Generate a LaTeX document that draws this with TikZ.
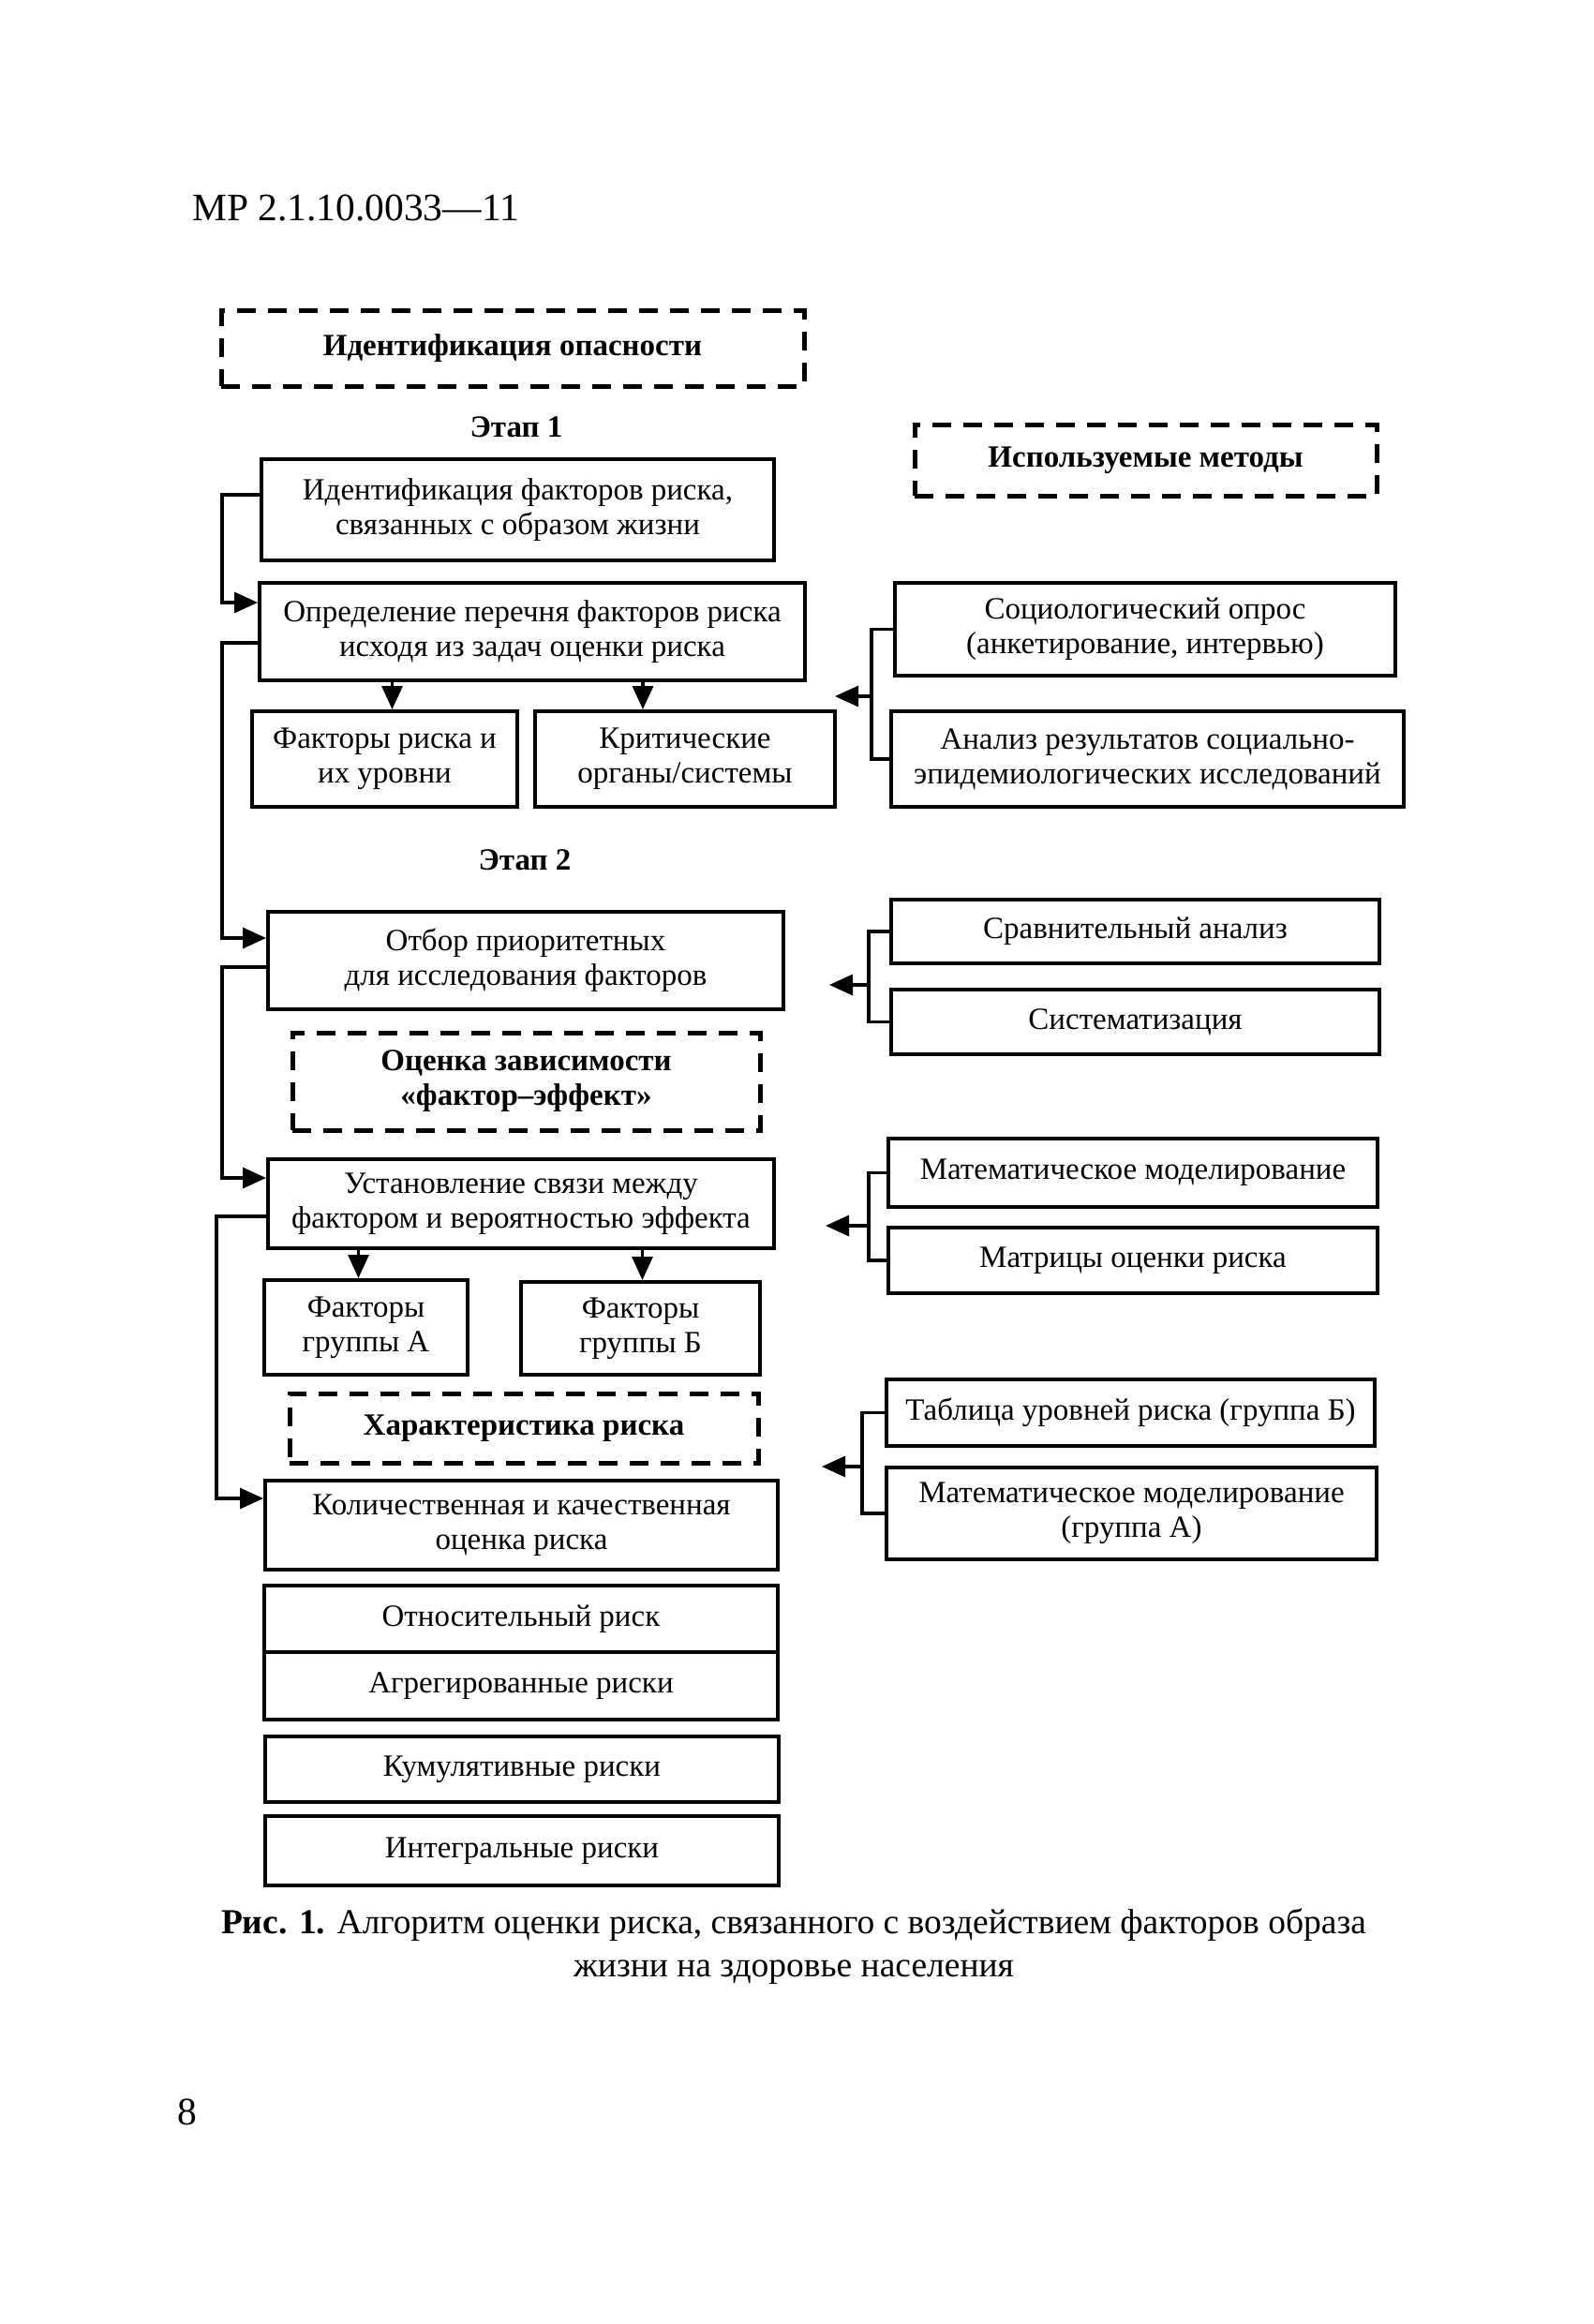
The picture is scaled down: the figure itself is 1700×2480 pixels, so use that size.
\documentclass[tikz,border=0pt]{standalone}
\usepackage{fontspec}
\setmainfont{Liberation Serif}
\usetikzlibrary{arrows.meta}
\begin{document}
\begin{tikzpicture}[x=1pt,y=-1pt,
  box/.style={draw, line width=4pt, align=center, inner sep=0pt, font=\fontsize{33}{37}\selectfont},
  dbox/.style={draw, line width=5pt, dash pattern=on 20pt off 13pt, align=center, inner sep=0pt, font=\fontsize{33}{37}\selectfont\bfseries},
  lbl/.style={inner sep=0pt, font=\fontsize{33}{37}\selectfont\bfseries},
  conn/.style={line width=3.2pt},
  arr/.style={conn, -{Triangle[length=25pt,width=22pt]}},
]
\useasboundingbox (0,0) rectangle (1700,2480);
\fill[white] (0,0) rectangle (1700,2480);

\node[anchor=west, inner sep=0pt, font=\fontsize{41.5}{45}\selectfont] (hdr) at (205,222) {МР 2.1.10.0033—11};

% left column
\node[dbox, minimum width=622pt, minimum height=80pt] (d1) at (547,372) {Идентификация опасности};
\node[lbl] (e1) at (551,456) {Этап 1};
\node[box, minimum width=547pt, minimum height=108pt] (b4) at (552.5,544) {Идентификация факторов риска,\\связанных с образом жизни};
\node[box, minimum width=582pt, minimum height=104pt] (b6) at (568,674) {Определение перечня факторов риска\\исходя из задач оценки риска};
\node[box, minimum width=283pt, minimum height=102pt] (b7) at (410.5,810) {Факторы риска и\\их уровни};
\node[box, minimum width=320pt, minimum height=102pt] (b8) at (731,810) {Критические\\органы/системы};
\node[lbl] (e2) at (560,918) {Этап 2};
\node[box, minimum width=550pt, minimum height=104pt] (b12) at (561,1025) {Отбор приоритетных\\для исследования факторов};
\node[dbox, minimum width=499pt, minimum height=104pt] (d13) at (561.5,1154) {Оценка зависимости\\«фактор–эффект»};
\node[box, minimum width=540pt, minimum height=95pt] (b14) at (556,1284.5) {Установление связи между\\фактором и вероятностью эффекта};
\node[box, minimum width=217pt, minimum height=101pt] (b15) at (390.5,1416.5) {Факторы\\группы А};
\node[box, minimum width=255pt, minimum height=99pt] (b16) at (683.5,1417.5) {Факторы\\группы Б};
\node[dbox, minimum width=500pt, minimum height=74pt] (d17) at (559,1524) {Характеристика риска};
\node[box, minimum width=547pt, minimum height=95pt] (b18) at (556.5,1627.5) {Количественная и качественная\\оценка риска};
\node[box, minimum width=548pt, minimum height=71pt] (b19) at (556,1727.5) {Относительный риск};
\node[box, minimum width=548pt, minimum height=72pt] (b20) at (556,1799) {Агрегированные риски};
\node[box, minimum width=548pt, minimum height=70pt] (b21) at (557,1888) {Кумулятивные риски};
\node[box, minimum width=548pt, minimum height=74pt] (b22) at (557,1975) {Интегральные риски};

% right column
\node[dbox, minimum width=493pt, minimum height=76pt] (meth) at (1222.5,491) {Используемые методы};
\node[box, minimum width=534pt, minimum height=99pt] (b9) at (1222,671.5) {Социологический опрос\\(анкетирование, интервью)};
\node[box, minimum width=547pt, minimum height=102pt] (b10) at (1224.5,810) {Анализ результатов социально-\\эпидемиологических исследований};
\node[box, minimum width=521pt, minimum height=68pt] (b23) at (1211.5,994) {Сравнительный анализ};
\node[box, minimum width=521pt, minimum height=69pt] (b24) at (1211.5,1090.5) {Систематизация};
\node[box, minimum width=522pt, minimum height=73pt] (b25) at (1209,1251.5) {Математическое моделирование};
\node[box, minimum width=522pt, minimum height=70pt] (b26) at (1209,1345) {Матрицы оценки риска};
\node[box, minimum width=521pt, minimum height=71pt] (b27) at (1206.5,1507.5) {Таблица уровней риска (группа Б)};
\node[box, minimum width=523pt, minimum height=98pt] (b28) at (1207.5,1615) {Математическое моделирование\\(группа А)};

% caption and page number
\node[inner sep=0pt, align=center, font=\fontsize{37.5}{46}\selectfont] (cap) at (847,2077) {\textbf{Рис. 1.} Алгоритм оценки риска, связанного с воздействием факторов образа\\жизни на здоровье населения};
\node[inner sep=0pt, font=\fontsize{41.5}{45}\selectfont] (pg) at (200,2254) {8};

% left brackets
\draw[arr] ([yshift=-40pt]b4.north west) -- ++(-40,0) |- ([yshift=-23pt]b6.north west);
\draw[arr] ([yshift=-66pt]b6.north west) -- ++(-38,0) |- ([yshift=-30pt]b12.north west);
\draw[arr] ([yshift=-61pt]b12.north west) -- ++(-47,0) |- ([yshift=-22pt]b14.north west);
\draw[arr] ([yshift=-63pt]b14.north west) -- ++(-53,0) |- ([yshift=-21pt]b18.north west);

% down arrows
\coordinate (a1) at ([xshift=8pt]b7.north);
\coordinate (a2) at ([xshift=-45pt]b8.north);
\draw[arr] (b6.south -| a1) -- (a1);
\draw[arr] (b6.south -| a2) -- (a2);
\coordinate (a3) at ([xshift=-8pt]b15.north);
\coordinate (a4) at ([xshift=2pt]b16.north);
\draw[arr] (b14.south -| a3) -- (a3);
\draw[arr] (b14.south -| a4) -- (a4);

% right brackets
\draw[conn] (b9.west) -- ++(-23,0) |- (b10.west);
\coordinate (r1j) at (932,743);
\coordinate (r1t) at (891,743);
\draw[arr] (r1j) -- (r1t);

\draw[conn] (b23.west) -- ++(-22,0) |- (b24.west);
\coordinate (r2j) at (929,1051);
\coordinate (r2t) at (885,1051);
\draw[arr] (r2j) -- (r2t);

\draw[conn] (b25.west) -- ++(-19,0) |- (b26.west);
\coordinate (r3j) at (929,1308);
\coordinate (r3t) at (881,1308);
\draw[arr] (r3j) -- (r3t);

\draw[conn] (b27.west) -- ++(-24,0) |- (b28.west);
\coordinate (r4j) at (922,1565);
\coordinate (r4t) at (877,1565);
\draw[arr] (r4j) -- (r4t);
\end{tikzpicture}
\end{document}
